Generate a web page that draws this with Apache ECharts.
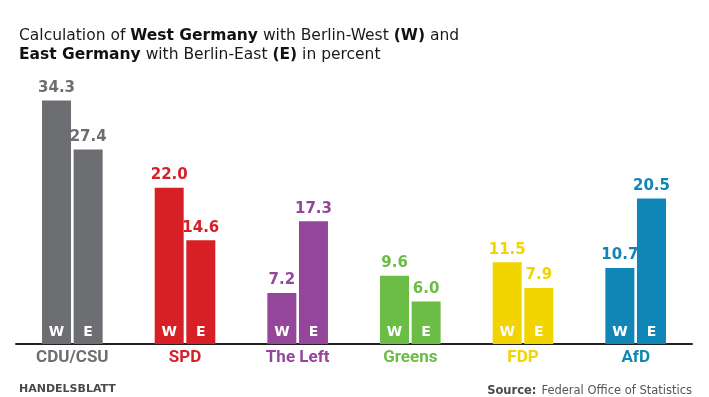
<!DOCTYPE html>
<html>
<head>
<meta charset="utf-8">
<script src="https://cdn.jsdelivr.net/npm/echarts@6/dist/echarts.min.js"></script>
<style>
  html, body { margin: 0; padding: 0; background: #fff; }
  #chart { width: 709px; height: 397px; }
</style>
</head>
<body>
<div id="chart"></div>
<script>
// vote share, West (W) and East (E), in percent
const parties = ['CDU/CSU', 'SPD', 'The Left', 'Greens', 'FDP', 'AfD'];
const west = [34.3, 22.0, 7.2, 9.6, 11.5, 10.7];
const east = [27.4, 14.6, 17.3, 6.0, 7.9, 20.5];
const partyColors = ['#6d6e71', '#d71f26', '#94479a', '#6cbd45', '#f2d400', '#0f86b6'];

const FONT = '"DejaVu Sans", sans-serif';

function barSeries(name, values, stack) {
    return {
        name: name,
        type: 'bar',
        stack: stack,
        barWidth: 29,
        barGap: '9%',
        data: values.map((v, i) => ({ value: v, itemStyle: { color: partyColors[i] } })),
        label: {
            show: true,
            position: 'insideBottom',
            distance: 5,
            formatter: name,
            color: '#fff',
            fontFamily: FONT,
            fontWeight: 'bold',
            fontSize: 14
        }
    };
}

// zero-height cap on each bar that carries the value label
function valueSeries(values, stack) {
    return {
        type: 'bar',
        stack: stack,
        barWidth: 29,
        barGap: '9%',
        silent: true,
        itemStyle: { color: 'transparent' },
        data: values.map((v, i) => ({ value: 0, label: { color: partyColors[i] } })),
        label: {
            show: true,
            position: 'top',
            distance: 5,
            formatter: p => values[p.dataIndex].toFixed(1),
            fontFamily: FONT,
            fontWeight: 'bold',
            fontSize: 15
        }
    };
}

const chart = echarts.init(document.getElementById('chart'));

chart.setOption({
    animation: false,
    title: [{
        left: 14,
        top: 21,
        text: '{r|Calculation of }{b|West Germany}{r| with Berlin-West }{b|(W)}{r| and}\n{b|East Germany}{r| with Berlin-East }{b|(E)}{r| in percent}',
        textStyle: {
            rich: {
                r: { fontFamily: FONT, fontSize: 15.5, fontWeight: 'normal', color: '#1a1a1a', lineHeight: 19 },
                b: { fontFamily: FONT, fontSize: 15.5, fontWeight: 'bold', color: '#111', lineHeight: 19 }
            }
        }
    }, {
        left: 14,
        top: 379,
        text: 'HANDELSBLATT',
        textStyle: { fontFamily: FONT, fontSize: 11, fontWeight: 'bold', color: '#4a4a4a' }
    }, {
        right: 12,
        top: 377,
        text: '{b|Source:} {r|Federal Office of Statistics}',
        textStyle: {
            rich: {
                b: { fontFamily: FONT, fontSize: 11.5, fontWeight: 'bold', color: '#4a4a4a' },
                r: { fontFamily: FONT, fontSize: 11.5, fontWeight: 'normal', color: '#555' }
            }
        }
    }],
    grid: { left: 16, right: 17, top: 60, bottom: 53 },
    xAxis: {
        type: 'category',
        data: parties,
        axisLine: { lineStyle: { color: '#222', width: 2 } },
        axisTick: { show: false },
        axisLabel: {
            margin: 5,
            fontFamily: 'Roboto, sans-serif',
            fontWeight: 'bold',
            fontSize: 17,
            color: v => partyColors[parties.indexOf(v)]
        }
    },
    yAxis: {
        type: 'value',
        min: 0,
        max: 40,
        show: false
    },
    series: [
        barSeries('W', west, 'w'),
        valueSeries(west, 'w'),
        barSeries('E', east, 'e'),
        valueSeries(east, 'e')
    ]
});
</script>
</body>
</html>
